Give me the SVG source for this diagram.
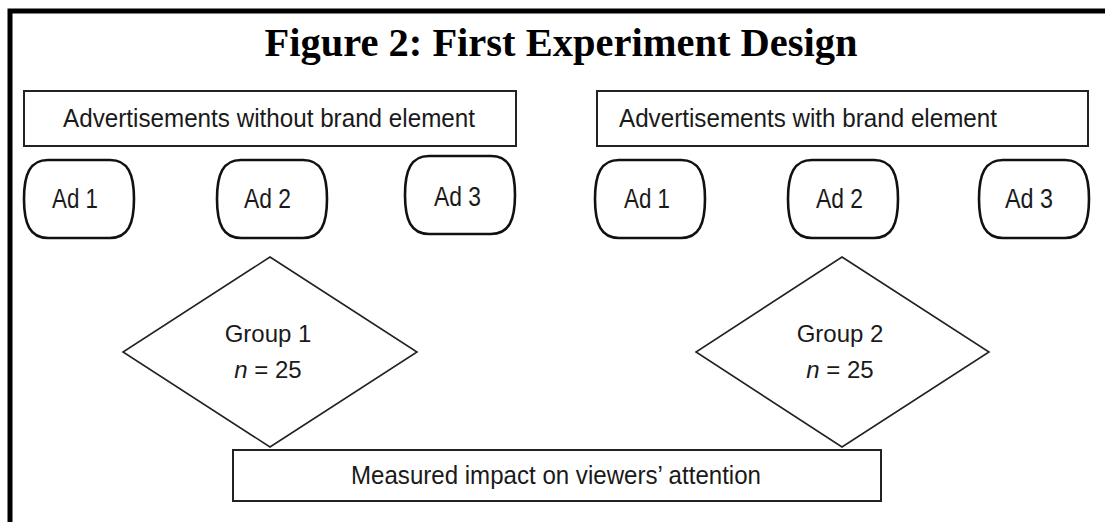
<svg xmlns="http://www.w3.org/2000/svg" xmlns:xlink="http://www.w3.org/1999/xlink" width="1105" height="522" viewBox="0 0 1105 522">
<style>
.title{font-family:"Liberation Serif","Times New Roman",serif;font-weight:bold;font-size:40.5px;fill:#000}
.lbl{font-family:"Liberation Sans",Arial,sans-serif;font-size:25px;fill:#1a1a1a}
.adt{font-size:27px}
.grp{font-size:24px}
.box{fill:#fff;stroke:#222;stroke-width:2}
.ad{fill:#fff;stroke:#111;stroke-width:2.6}
.dia{fill:#fff;stroke:#222;stroke-width:1.6}
</style>
<defs>
<path id="adshape" d="M 24 0 H 86 C 104 0 110 14 110 39 C 110 64 104 78 86 78 H 24 C 6 78 0 64 0 39 C 0 14 6 0 24 0 Z"/>
</defs>
<rect x="0" y="0" width="1105" height="522" fill="#fff"/>
<path d="M 10 530 V 11 H 1115" fill="none" stroke="#000" stroke-width="5"/>
<text class="title" x="561" y="56" text-anchor="middle">Figure 2: First Experiment Design</text>

<g id="box-without">
<rect class="box" x="24" y="91" width="492" height="55"/>
<text class="lbl" x="63" y="127" textLength="412" lengthAdjust="spacingAndGlyphs">Advertisements without brand element</text>
</g>
<g id="box-with">
<rect class="box" x="597" y="91" width="491" height="55"/>
<text class="lbl" x="619" y="127" textLength="378" lengthAdjust="spacingAndGlyphs">Advertisements with brand element</text>
</g>

<g id="ad1-left" transform="translate(24,160)">
<use xlink:href="#adshape" class="ad"/>
<text class="lbl adt" x="28" y="48" textLength="46" lengthAdjust="spacingAndGlyphs">Ad 1</text>
</g>
<g id="ad2-left" transform="translate(217,160)">
<use xlink:href="#adshape" class="ad"/>
<text class="lbl adt" x="27" y="48" textLength="47" lengthAdjust="spacingAndGlyphs">Ad 2</text>
</g>
<g id="ad3-left" transform="translate(405,156)">
<use xlink:href="#adshape" class="ad"/>
<text class="lbl adt" x="29" y="50" textLength="47" lengthAdjust="spacingAndGlyphs">Ad 3</text>
</g>
<g id="ad1-right" transform="translate(595,160)">
<use xlink:href="#adshape" class="ad"/>
<text class="lbl adt" x="29" y="48" textLength="46" lengthAdjust="spacingAndGlyphs">Ad 1</text>
</g>
<g id="ad2-right" transform="translate(788,160)">
<use xlink:href="#adshape" class="ad"/>
<text class="lbl adt" x="28" y="48" textLength="47" lengthAdjust="spacingAndGlyphs">Ad 2</text>
</g>
<g id="ad3-right" transform="translate(979,160)">
<use xlink:href="#adshape" class="ad"/>
<text class="lbl adt" x="26" y="48" textLength="48" lengthAdjust="spacingAndGlyphs">Ad 3</text>
</g>

<g id="group1">
<polygon class="dia" points="270,257 417,352 270,447 123,352"/>
<text class="lbl grp" x="268" y="342" text-anchor="middle">Group 1</text>
<text class="lbl grp" x="268" y="378" text-anchor="middle"><tspan font-style="italic">n</tspan> = 25</text>
</g>
<g id="group2">
<polygon class="dia" points="842,257 989,352 842,447 696,352"/>
<text class="lbl grp" x="840" y="342" text-anchor="middle">Group 2</text>
<text class="lbl grp" x="840" y="378" text-anchor="middle"><tspan font-style="italic">n</tspan> = 25</text>
</g>

<g id="measured">
<rect class="box" x="233" y="450" width="648" height="51"/>
<text class="lbl" x="351" y="484" textLength="410" lengthAdjust="spacingAndGlyphs">Measured impact on viewers’ attention</text>
</g>

<g id="connectors"></g>
</svg>
